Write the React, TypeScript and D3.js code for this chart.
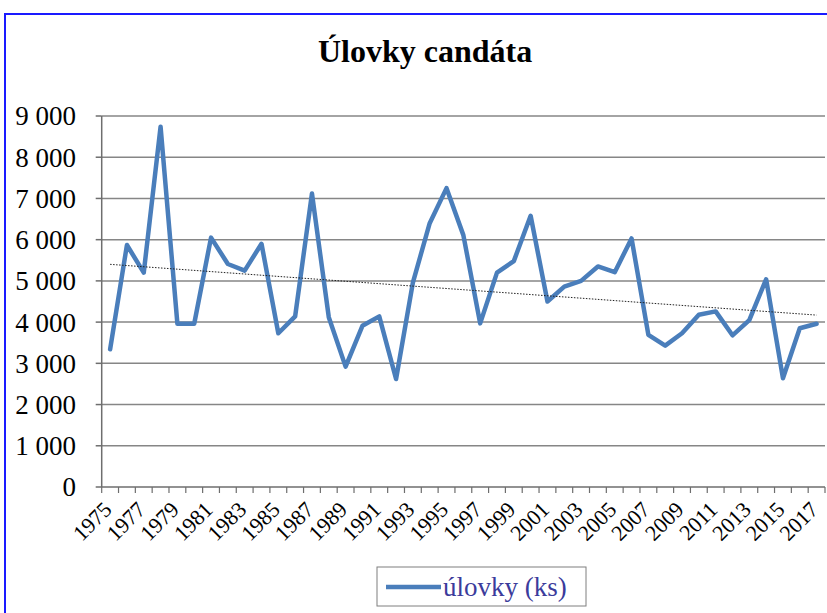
import * as d3 from "d3";

const years = d3.range(1975, 2018).map(String);
const catches = [
  3340, 5870, 5200, 8740, 3960, 3960, 6050, 5410, 5250, 5900,
  3730, 4140, 7120, 4120, 2920, 3910, 4140, 2620, 4960, 6400,
  7250, 6110, 3970, 5200, 5480, 6580, 4500, 4860, 5000, 5350,
  5210, 6030, 3690, 3430, 3730, 4180, 4260, 3680, 4050, 5040,
  2640, 3850, 3960,
];
const yTicks = [0, 1000, 2000, 3000, 4000, 5000, 6000, 7000, 8000, 9000];
const title = "Úlovky candáta";
const seriesName = "úlovky (ks)";

const W = 827;
const H = 613;
const margin = { top: 116, right: 2, bottom: 126, left: 101.7 };

const fmt = (v: number) => d3.format(",")(v).replace(/,/g, " ");

export default function App() {
  const x = d3
    .scaleBand()
    .domain(years)
    .range([margin.left, W - margin.right]);
  const y = d3
    .scaleLinear()
    .domain([0, 9000])
    .range([H - margin.bottom, margin.top]);

  const cx = (d: string) => (x(d) ?? 0) + x.bandwidth() / 2;

  const line = d3
    .line<number>()
    .x((_, i) => cx(years[i]))
    .y((d) => y(d));

  // linear trend (least squares over index)
  const idx = catches.map((_, i) => i);
  const mx = d3.mean(idx)!;
  const my = d3.mean(catches)!;
  const slope =
    d3.sum(idx, (i) => (i - mx) * (catches[i] - my)) /
    d3.sum(idx, (i) => (i - mx) * (i - mx));
  const icept = my - slope * mx;
  const trend = [icept, icept + slope * (catches.length - 1)];

  const y0 = y(0);
  const font = "'Liberation Serif', 'Times New Roman', serif";

  return (
    <svg
      width={W}
      height={H}
      style={{ position: "absolute", left: 0, top: 0, display: "block" }}
      fontFamily={font}
    >
      <rect x={0} y={0} width={W} height={H} fill="#fff" />
      {/* outer frame */}
      <path d={`M5,${H + 5}V14H${W + 5}`} fill="none" stroke="#1a1aff" strokeWidth={2} />

      <text x={425} y={62} textAnchor="middle" fontSize={32} fontWeight="bold">
        {title}
      </text>

      {/* gridlines */}
      {yTicks.slice(1).map((t) => (
        <line
          key={t}
          x1={margin.left}
          x2={W - margin.right}
          y1={y(t)}
          y2={y(t)}
          stroke="#868686"
          strokeWidth={1.5}
        />
      ))}

      {/* y axis */}
      <line x1={margin.left} x2={margin.left} y1={margin.top} y2={y0} stroke="#6e6e6e" strokeWidth={1.5} />
      {yTicks.map((t) => (
        <g key={t}>
          <line x1={margin.left - 6} x2={margin.left} y1={y(t)} y2={y(t)} stroke="#6e6e6e" strokeWidth={1.5} />
          <text x={76} y={y(t)} dy="0.35em" textAnchor="end" fontSize={27}>
            {fmt(t)}
          </text>
        </g>
      ))}

      {/* x axis */}
      <line x1={margin.left} x2={W - margin.right} y1={y0} y2={y0} stroke="#6e6e6e" strokeWidth={1.5} />
      {years.map((yr) => (
        <line
          key={"t" + yr}
          x1={x(yr)!}
          x2={x(yr)!}
          y1={y0}
          y2={y0 + 6}
          stroke="#6e6e6e"
          strokeWidth={1.2}
        />
      ))}
      <line x1={W - margin.right} x2={W - margin.right} y1={y0} y2={y0 + 6} stroke="#6e6e6e" strokeWidth={1.2} />
      {years
        .filter((_, i) => i % 2 === 0)
        .map((yr) => (
          <text
            key={"l" + yr}
            transform={`translate(${cx(yr) + 3},${y0 + 24}) rotate(-45)`}
            textAnchor="end"
            fontSize={22}
          >
            {yr}
          </text>
        ))}

      {/* series */}
      <path
        d={line(catches) ?? ""}
        fill="none"
        stroke="#4a7ebb"
        strokeWidth={4.5}
        strokeLinejoin="round"
        strokeLinecap="round"
      />
      <line
        x1={cx(years[0])}
        x2={cx(years[years.length - 1])}
        y1={y(trend[0])}
        y2={y(trend[1])}
        stroke="#222"
        strokeWidth={1}
        strokeDasharray="1.5,1.5"
      />

      {/* legend */}
      <rect x={377} y={567} width={209} height={39} fill="#fff" stroke="#7f7f7f" strokeWidth={1} />
      <line x1={386} x2={441} y1={587} y2={587} stroke="#4a7ebb" strokeWidth={4.5} />
      <text x={443} y={587} dy="0.35em" fontSize={27} fill="#3b3b9b">
        {seriesName}
      </text>
    </svg>
  );
}
